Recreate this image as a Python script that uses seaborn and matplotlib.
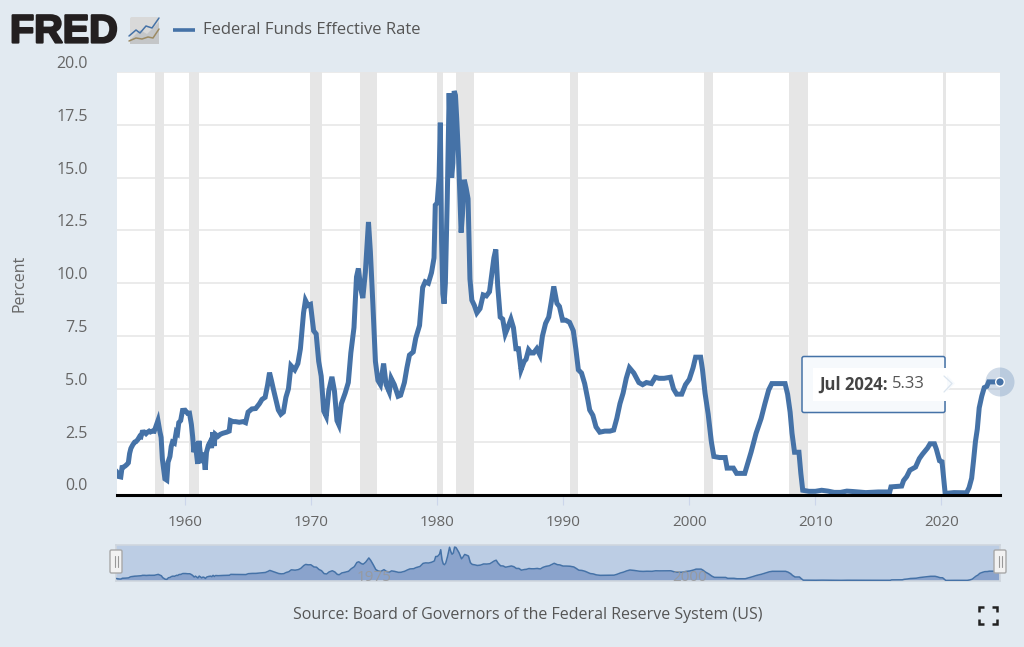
import numpy as np
import pandas as pd
import matplotlib
matplotlib.use('Agg')
import matplotlib.pyplot as plt
import matplotlib.patheffects as pe
from matplotlib.patches import Rectangle, Circle, FancyBboxPatch, Polygon
from matplotlib.transforms import ScaledTranslation
import seaborn as sns

years = [1954.5,1954.6,1954.75,1954.9,1955.0,1955.1,1955.25,1955.4,1955.5,1955.6,1955.7,1955.85,1956.0,1956.1,1956.25,1956.4,1956.5,1956.6,1956.75,1956.9,
         1957.0,1957.15,1957.25,1957.4,1957.55,1957.7,1957.85,1958.0,1958.1,1958.2,1958.3,1958.4,1958.55,1958.65,1958.8,1958.9,1959.0,1959.15,1959.3,1959.4,
         1959.5,1959.65,1959.8,1960.0,1960.2,1960.35,1960.5,1960.6,1960.7,1960.8,1960.9,1961.0,1961.1,1961.2,1961.3,1961.4,1961.5,1961.6,1961.7,1961.85,
         1962.0,1962.1,1962.2,1962.3,1962.4,1962.6,1962.8,1963.0,1963.3,1963.5,1963.6,1963.8,1964.0,1964.3,1964.6,1964.8,1965.0,1965.3,1965.6,1965.9,
         1966.1,1966.35,1966.55,1966.7,1966.85,1967.0,1967.2,1967.4,1967.6,1967.8,1968.0,1968.2,1968.4,1968.7,1968.95,1969.15,1969.4,1969.55,1969.75,1969.95,
         1970.2,1970.4,1970.6,1970.8,1971.0,1971.2,1971.4,1971.65,1971.85,1972.05,1972.2,1972.4,1972.7,1972.95,1973.15,1973.4,1973.6,1973.75,1973.95,1974.1,
         1974.3,1974.55,1974.7,1974.9,1975.1,1975.3,1975.5,1975.75,1975.95,1976.2,1976.35,1976.6,1976.9,1977.1,1977.4,1977.6,1977.8,1978.1,1978.3,1978.6,
         1978.85,1979.05,1979.3,1979.55,1979.75,1979.85,1980.0,1980.15,1980.25,1980.35,1980.45,1980.55,1980.65,1980.8,1980.95,1981.05,1981.15,1981.25,1981.35,1981.45,
         1981.55,1981.7,1981.9,1982.0,1982.15,1982.3,1982.45,1982.6,1982.75,1982.95,1983.15,1983.4,1983.65,1983.9,1984.15,1984.3,1984.5,1984.65,1984.8,1985.0,
         1985.2,1985.4,1985.6,1985.85,1986.05,1986.25,1986.45,1986.65,1986.9,1987.05,1987.25,1987.45,1987.65,1987.9,1988.15,1988.35,1988.6,1988.85,1989.05,1989.25,
         1989.5,1989.7,1989.95,1990.2,1990.5,1990.8,1991.0,1991.2,1991.45,1991.7,1991.95,1992.1,1992.35,1992.6,1992.9,1993.3,1993.7,1994.0,1994.25,1994.5,
         1994.75,1995.0,1995.25,1995.6,1996.0,1996.3,1996.6,1997.0,1997.3,1997.6,1998.0,1998.5,1998.75,1999.0,1999.4,1999.7,2000.0,2000.3,2000.5,2000.9,
         2001.05,2001.25,2001.5,2001.75,2001.95,2002.4,2002.85,2003.0,2003.5,2003.75,2004.4,2004.6,2004.9,2005.3,2005.7,2006.0,2006.3,2006.55,2007.0,2007.6,
         2007.8,2008.0,2008.15,2008.35,2008.7,2008.85,2009.0,2009.5,2010.0,2010.5,2011.0,2011.5,2012.0,2012.5,2013.0,2014.0,2015.0,2015.9,2016.0,2016.85,
         2017.0,2017.25,2017.5,2017.95,2018.25,2018.5,2018.9,2019.1,2019.45,2019.6,2019.85,2020.05,2020.2,2020.3,2021.0,2022.0,2022.2,2022.4,2022.55,2022.7,
         2022.85,2023.0,2023.2,2023.4,2023.6,2023.75,2024.5]
rates = [1.13,1.06,0.85,0.83,1.28,1.29,1.35,1.43,1.5,1.94,2.18,2.35,2.48,2.5,2.6,2.75,2.73,2.95,2.96,2.88,
         2.94,3.0,2.96,3.0,2.99,3.24,3.5,2.98,2.7,1.67,1.2,0.74,0.68,1.53,1.8,2.27,2.48,2.43,2.96,2.9,
         3.4,3.5,3.98,3.99,3.84,3.85,3.32,2.75,2.0,2.47,1.98,1.45,2.54,2.02,1.49,1.98,1.73,1.17,2.0,2.33,
         2.5,2.2,2.95,2.3,2.85,2.75,2.85,2.9,2.95,3.0,3.5,3.45,3.45,3.42,3.45,3.4,3.9,4.05,4.07,4.3,
         4.5,4.6,5.2,5.77,5.4,5.0,4.5,4.0,3.8,3.9,4.6,5.0,6.1,5.9,6.2,6.9,8.6,9.19,8.95,9.0,
         7.75,7.6,6.3,5.6,3.95,3.7,4.9,5.57,4.9,3.5,3.3,4.3,4.8,5.3,6.7,7.9,10.3,10.7,9.7,9.3,
         10.5,12.9,11.5,9.0,6.3,5.4,5.2,6.2,5.2,4.85,5.5,5.2,4.65,4.7,5.3,6.0,6.6,6.75,7.4,8.0,
         9.8,10.07,10.0,10.5,11.2,13.7,13.8,15.0,17.6,12.0,9.5,9.03,10.0,14.0,19.0,16.5,15.0,15.7,19.1,18.9,
         17.8,15.9,12.4,13.2,14.9,14.5,14.0,10.2,9.2,8.95,8.6,8.8,9.45,9.4,9.6,10.3,11.2,11.6,9.9,8.4,
         8.3,7.6,7.9,8.3,7.9,6.9,6.9,5.9,6.3,6.4,6.85,6.7,6.7,6.9,6.6,7.5,8.1,8.4,9.1,9.85,
         9.05,8.9,8.25,8.25,8.15,7.75,6.9,5.9,5.75,5.25,4.5,4.0,3.75,3.2,2.95,3.0,3.0,3.05,3.6,4.3,
         4.8,5.5,6.0,5.75,5.3,5.2,5.3,5.25,5.55,5.5,5.5,5.55,5.0,4.75,4.75,5.2,5.45,6.0,6.5,6.5,
         5.9,4.8,3.8,2.5,1.8,1.75,1.75,1.25,1.25,1.0,1.0,1.4,2.0,2.9,3.6,4.3,4.95,5.25,5.25,5.25,
         4.75,3.9,2.9,2.0,2.0,1.0,0.2,0.15,0.15,0.2,0.16,0.1,0.1,0.16,0.14,0.09,0.12,0.12,0.36,0.4,
         0.66,0.85,1.15,1.3,1.7,1.91,2.2,2.4,2.4,2.15,1.6,1.55,0.65,0.05,0.09,0.08,0.33,0.77,1.6,2.5,
         3.1,4.1,4.65,5.06,5.12,5.33,5.33]

rec_start = [1957.65,1960.3,1969.95,1973.9,1980.0,1981.5,1990.55,2001.2,2007.95,2020.1]
rec_end = [1958.3,1961.1,1970.9,1975.2,1980.5,1982.9,1991.2,2001.85,2009.45,2020.35]

y_ticks = [0,2.5,5,7.5,10,12.5,15,17.5,20]
x_ticks = [1960,1970,1980,1990,2000,2010,2020]
series_name = 'Federal Funds Effective Rate'
tip_date = 'Jul 2024:'
tip_value = '5.33'
source = 'Source: Board of Governors of the Federal Reserve System (US)'
nav_labels = [1975,2000]

BLUE = '#4572a7'
BG = '#e2eaf1'
GREY = '#666666'

sns.set_theme(style='white')
plt.rcParams['font.family'] = ['Open Sans','DejaVu Sans']

df = pd.DataFrame({'year': years, 'rate': rates})
W, H = 1024, 647
fig = plt.figure(figsize=(W/100, H/100), dpi=100, facecolor=BG)

def box(x0, y0, x1, y1):
    return [x0/W, 1-y1/H, (x1-x0)/W, (y1-y0)/H]

# main chart
ax = fig.add_axes(box(117, 72, 1000, 494.5))
ax.set_facecolor('white')
ax.set_xlim(1954.6, 2024.65)
ax.set_ylim(0, 20)
for s, e in zip(rec_start, rec_end):
    ax.axvspan(s, e, color='#e6e6e6', lw=0, zorder=1)
ax.set_yticks(y_ticks)
ax.set_xticks(x_ticks)
ax.grid(axis='y', color='#e6e6e6', lw=1.1, zorder=0)
ax.grid(axis='x', visible=False)
sns.lineplot(data=df, x='year', y='rate', ax=ax, color=BLUE, lw=3.6, zorder=3,
             solid_joinstyle='miter', errorbar=None, estimator=None)
ax.set_xlabel('')
ax.set_ylabel('Percent', fontsize=11.5, color=GREY, labelpad=21)
for s in ax.spines.values():
    s.set_visible(False)
ax.spines['bottom'].set_visible(True)
ax.spines['bottom'].set_color('black')
ax.spines['bottom'].set_linewidth(2.2)
ax.spines['bottom'].set_zorder(5)
ax.tick_params(axis='x', length=7, width=0.8, color='#ccd6eb', labelsize=11, labelcolor=GREY, pad=8, direction='out', bottom=True)
ax.tick_params(axis='y', length=0, labelsize=11.5, labelcolor=GREY, pad=21)
ax.set_yticklabels([f'{v:.1f}' for v in y_ticks])
offset = ScaledTranslation(0, 8/100*1.0, fig.dpi_scale_trans)
for lab in ax.get_yticklabels():
    lab.set_transform(lab.get_transform() + offset)
    lab.set_va('center')

# range navigator
nav = fig.add_axes(box(116, 545, 1000, 580.5))
nav.set_facecolor('#bccde4')
nav.set_xlim(1954.5, 2024.6)
nav.set_ylim(0, 20.3)
nav.fill_between(years, rates, color='#8aa3cc', lw=0, zorder=2)
sns.lineplot(data=df, x='year', y='rate', ax=nav, color=BLUE, lw=1.1, zorder=3, errorbar=None, estimator=None)
for yr in nav_labels:
    nav.text(yr, 1.7, str(yr), ha='center', va='center', fontsize=11, color='#999999', zorder=4, alpha=0.85)
nav.set_xticks([]); nav.set_yticks([])
nav.set_xlabel(''); nav.set_ylabel('')
for s in nav.spines.values():
    s.set_color('#cfd6de'); s.set_linewidth(1.2)

# overlay in pixel coordinates for logo, tooltip, handles
ov = fig.add_axes([0, 0, 1, 1], facecolor='none', zorder=10)
ov.set_xlim(0, W); ov.set_ylim(H, 0); ov.axis('off')

ov.text(10, 31.5, 'FRED', fontsize=28.5, fontweight='bold', family='Liberation Sans', color='#231f20',
        va='center', ha='left', path_effects=[pe.withStroke(linewidth=1.6, foreground='#231f20')])

# small logo icon
ov.add_patch(FancyBboxPatch((130, 17), 29, 27, boxstyle='round,pad=0,rounding_size=2', fc='#d9d9d9', ec='none'))
ov.add_patch(Polygon([(130,40),(140,30),(147,34),(159,22),(159,44),(130,44)], fc='#c4c6c8', ec='none'))
ov.plot([129,136,140,146,152,159], [36,30,33,26,28,18], color=BLUE, lw=1.1)
ov.plot([129,136,142,148,153,159], [41,38,39,37,38,29], color='#9c8a63', lw=1.1)

ov.plot([173,195], [29.5,29.5], color=BLUE, lw=2.6, solid_capstyle='butt')
ov.text(203, 30.5, series_name, fontsize=12, color='#555555', va='center', ha='left')

# tooltip
ov.add_patch(Polygon([(944,372),(955,383.5),(944,394)], fc='#f7fafd', ec=BLUE, lw=0, zorder=3))
ov.add_patch(FancyBboxPatch((802, 356.5), 143, 56, boxstyle='round,pad=0,rounding_size=2', fc='#f6f9fc', ec=BLUE, lw=1.1, zorder=2))
ov.plot([944,952,944],[376,383.5,392], color='#dbe5ef', lw=0.9, zorder=4)
ov.add_patch(Rectangle((813, 368), 134, 33, fc='white', ec='none', zorder=3))
ov.text(819, 384.5, tip_date, fontsize=12, fontweight='bold', color='#444444', va='center', ha='left', zorder=5)
ov.text(892, 384.5, tip_value, fontsize=12, color='#555555', va='center', ha='left', zorder=5)

# end marker
ov.add_patch(Circle((1000, 382), 14.5, fc=BLUE, ec='none', alpha=0.25, zorder=6))
ov.add_patch(Circle((1000, 382), 4.3, fc=BLUE, ec='white', lw=1, zorder=7))

# navigator handles
for hx in [116, 1000]:
    ov.add_patch(FancyBboxPatch((hx-6, 550), 12, 23, boxstyle='round,pad=0,rounding_size=1.5', fc='#f2f2f2', ec='#a8a8a8', lw=1, zorder=7))
    ov.plot([hx-1.5,hx-1.5],[556,567], color='#999999', lw=0.8, zorder=8)
    ov.plot([hx+1.5,hx+1.5],[556,567], color='#999999', lw=0.8, zorder=8)

ov.text(528, 615, source, fontsize=11.5, color='#555555', va='center', ha='center')

# fullscreen icon
for cx, cy, dx, dy in [(979,607,1,1),(997,607,-1,1),(979,624,1,-1),(997,624,-1,-1)]:
    ov.plot([cx+5*dx, cx, cx], [cy, cy, cy+5*dy], color='#222222', lw=1.8, solid_capstyle='butt', solid_joinstyle='miter')

fig.savefig('out.png', dpi=100, facecolor=fig.get_facecolor())
